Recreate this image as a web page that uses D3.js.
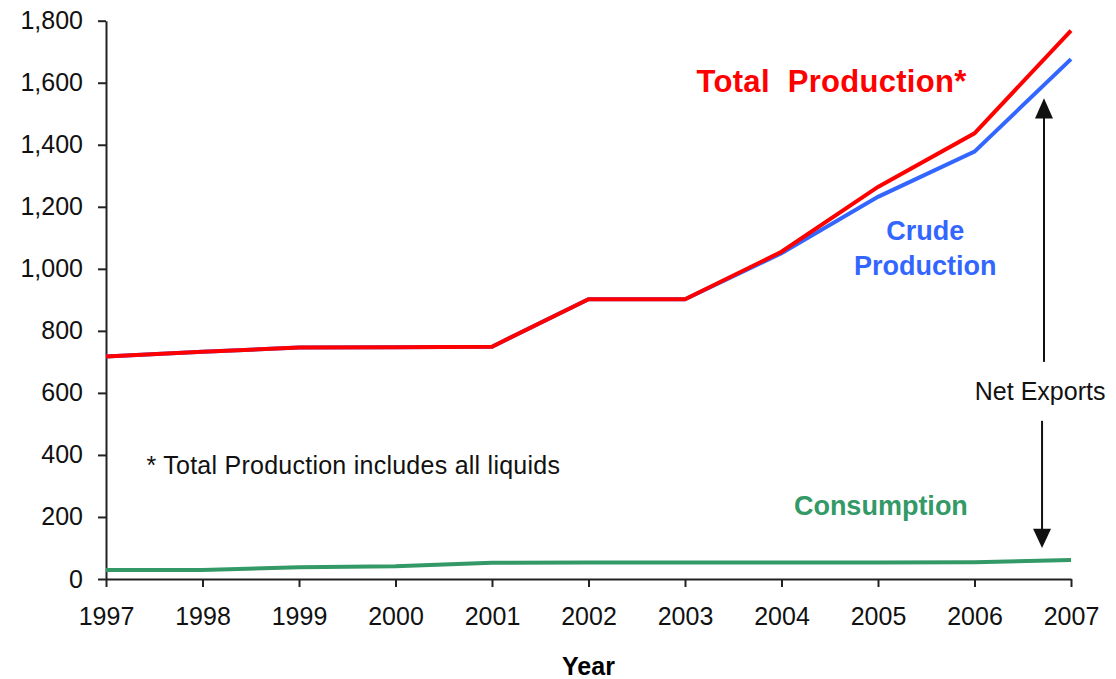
<!DOCTYPE html>
<html>
<head>
<meta charset="utf-8">
<script src="https://cdn.jsdelivr.net/npm/d3@7"></script>
<style>
  body { margin: 0; background: #fff; }
  text { font-family: "Liberation Sans", Arial, sans-serif; }
</style>
</head>
<body>
<script>

// data (thousand barrels per day)
var years = [1997, 1998, 1999, 2000, 2001, 2002, 2003, 2004, 2005, 2006, 2007];
var totalProduction = [717, 733, 746, 747, 749, 902, 902, 1055, 1264, 1437, 1768];
var crudeProduction = [717, 733, 746, 747, 749, 902, 902, 1050, 1232, 1378, 1676];
var consumption = [29, 29, 38, 41, 52, 53, 53, 53, 53, 54, 61];
var yTicks = [0, 200, 400, 600, 800, 1000, 1200, 1400, 1600, 1800];

var width = 1116, height = 679;
var margin = {top: 20.7, right: 45, bottom: 100, left: 106};

var svg = d3.select("body").append("svg")
    .attr("width", width)
    .attr("height", height);

var x = d3.scaleLinear()
    .domain([1997, 2007])
    .range([margin.left, width - margin.right]);

var y = d3.scaleLinear()
    .domain([0, 1800])
    .range([height - margin.bottom, margin.top]);

// axes
var yAxis = svg.append("g")
    .attr("transform", "translate(" + margin.left + ",0)")
    .call(d3.axisLeft(y).tickValues(yTicks).tickFormat(d3.format(",")).tickSize(8).tickSizeOuter(0).tickPadding(15));

var xAxis = svg.append("g")
    .attr("transform", "translate(0," + y(0) + ")")
    .call(d3.axisBottom(x).tickValues(years).tickFormat(d3.format("d")).tickSize(8).tickSizeOuter(0).tickPadding(20));

svg.selectAll(".tick text")
    .style("font-size", "25px")
    .style("font-family", "'Liberation Sans', Arial, sans-serif")
    .attr("fill", "#111");
svg.selectAll(".domain, .tick line")
    .attr("stroke", "#222")
    .attr("stroke-width", 2);

svg.append("text")
    .attr("x", (x(1997) + x(2007)) / 2)
    .attr("y", 675)
    .attr("text-anchor", "middle")
    .style("font-size", "25px")
    .style("font-weight", "bold")
    .text("Year");

// lines
var line = function(vals) {
  return d3.line()
    .x(function(d, i) { return x(years[i]); })
    .y(function(d) { return y(d); })(vals);
};

svg.append("path")
    .attr("d", line(consumption))
    .attr("fill", "none")
    .attr("stroke", "#339966")
    .attr("stroke-width", 4);

svg.append("path")
    .attr("d", line(crudeProduction))
    .attr("fill", "none")
    .attr("stroke", "#3366ff")
    .attr("stroke-width", 4);

svg.append("path")
    .attr("d", line(totalProduction))
    .attr("fill", "none")
    .attr("stroke", "#ff0000")
    .attr("stroke-width", 4);

// labels
svg.append("text")
    .attr("x", x(2003.12))
    .attr("y", y(1570))
    .attr("fill", "#ff0000")
    .style("font-size", "31px")
    .style("font-weight", "bold")
    .style("letter-spacing", "0.3px")
    .style("white-space", "pre")
    .text("Total  Production*");

svg.append("text")
    .attr("x", x(2005.49))
    .attr("y", y(1093))
    .attr("fill", "#3366ff")
    .attr("text-anchor", "middle")
    .style("font-size", "27px")
    .style("font-weight", "bold")
    .text("Crude");

svg.append("text")
    .attr("x", x(2005.49))
    .attr("y", y(980))
    .attr("fill", "#3366ff")
    .attr("text-anchor", "middle")
    .style("font-size", "27px")
    .style("font-weight", "bold")
    .text("Production");

svg.append("text")
    .attr("x", x(2005.03))
    .attr("y", y(206))
    .attr("fill", "#339966")
    .attr("text-anchor", "middle")
    .style("font-size", "27px")
    .style("font-weight", "bold")
    .text("Consumption");

svg.append("text")
    .attr("x", x(1997.42))
    .attr("y", y(338))
    .attr("fill", "#111")
    .style("font-size", "25px")
    .style("letter-spacing", "0.25px")
    .text("* Total Production includes all liquids");

// net exports arrows
svg.append("text")
    .attr("x", x(2006.68))
    .attr("y", y(577))
    .attr("fill", "#111")
    .attr("text-anchor", "middle")
    .style("font-size", "25px")
    .text("Net Exports");

var ax = x(2006.72);
svg.append("line")
    .attr("x1", ax).attr("x2", ax)
    .attr("y1", y(700)).attr("y2", y(1500))
    .attr("stroke", "#111").attr("stroke-width", 2);
svg.append("path")
    .attr("d", "M" + ax + "," + y(1550) + "L" + (ax - 9) + "," + y(1485) + "L" + (ax + 9) + "," + y(1485) + "Z")
    .attr("fill", "#111");

var bx = x(2006.70);
svg.append("line")
    .attr("x1", bx).attr("x2", bx)
    .attr("y1", y(510)).attr("y2", y(150))
    .attr("stroke", "#111").attr("stroke-width", 2);
svg.append("path")
    .attr("d", "M" + bx + "," + y(100) + "L" + (bx - 9) + "," + y(162) + "L" + (bx + 9) + "," + y(162) + "Z")
    .attr("fill", "#111");

</script>
</body>
</html>
